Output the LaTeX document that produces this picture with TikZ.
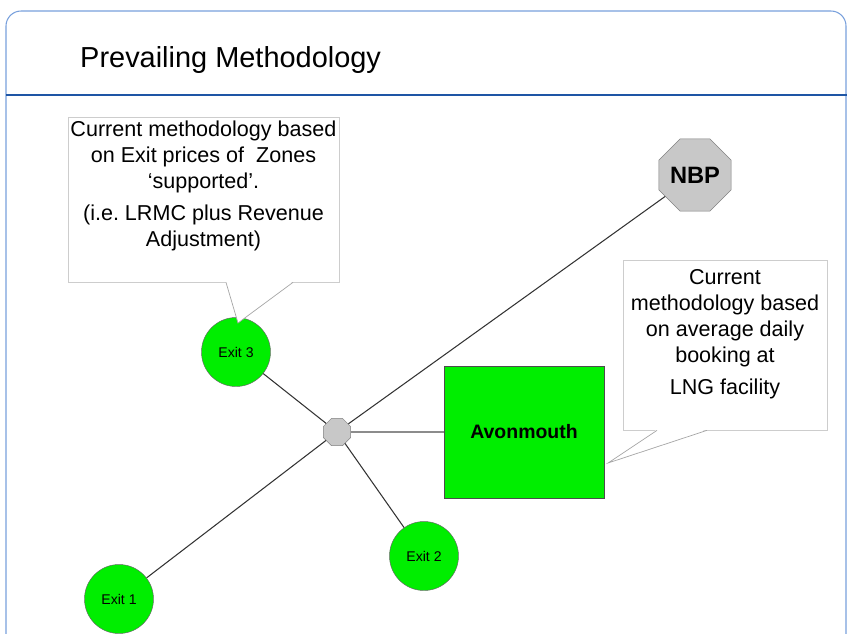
\documentclass[tikz,border=0pt]{standalone}
\usepackage{fontspec}
\setmainfont{Liberation Sans}
\usetikzlibrary{shapes.geometric,positioning,calc}
\frenchspacing

\definecolor{frameblue}{RGB}{120,160,220}
\definecolor{ruleblue}{RGB}{30,85,165}
\definecolor{zonegreen}{RGB}{0,238,0}
\definecolor{hubgray}{RGB}{200,200,200}
\definecolor{notegray}{RGB}{205,205,205}

\tikzset{
  exit/.style={circle, draw=black!60, fill=zonegreen, minimum size=20.7mm, inner sep=0pt,
    font=\fontsize{12}{13}\selectfont},
  octo/.style={regular polygon, regular polygon sides=8, draw=black!50, fill=hubgray, inner sep=0pt},
  pipe/.style={draw=black!80, line width=0.9pt},
  notebox/.style={rectangle, draw=notegray, fill=white, line width=0.6pt, inner sep=0pt},
  notetext/.style={align=center, inner sep=0pt, font=\fontsize{18.4}{22.2}\selectfont},
  noteline/.style={draw=black!35, line width=0.6pt},
}

\begin{document}
\begin{tikzpicture}[x=0.3mm, y=-0.3mm]
        \useasboundingbox (0,0) rectangle (847,633);
        \clip (0,0) rectangle (847,633);
        % Frame and title
        \draw[frameblue, line width=0.9pt, rounded corners=4.5mm] (6,11) rectangle (846,680);
        \draw[ruleblue, line width=0.9pt] (6,95) -- (847,95);
        \node[anchor=base west, inner sep=0pt, font=\fontsize{24.7}{28}\selectfont] (Title) at (80,67.5) {Prevailing Methodology};

        % Define nodes
        \node[exit] (Exit1) at (119,599) {Exit 1};
        \node[exit] (Exit2) at (424,556) {Exit 2};
        \node[exit] (Exit3) at (236,352) {Exit 3};
        \node[octo, minimum size=8.8mm] (Hub) at (337,432) {};
        \node[octo, minimum size=23.4mm, font=\bfseries\fontsize{20.2}{24}\selectfont] (NBP) at (695,175) {NBP};
        \node[draw=black!70, fill=zonegreen, minimum width=48mm, minimum height=39.6mm,
              font=\bfseries\fontsize{16.6}{20}\selectfont] (Avon) at (524,432) {Avonmouth};

        % Define pipes
        \path[pipe]
        (Exit1) edge (Hub)
        (Hub) edge (NBP)
        (Hub) edge (Exit3)
        (Hub) edge (Exit2);
        \draw[draw=black!45, line width=1pt] (Hub) -- (Avon);

        % Notes
        \node[notebox, minimum width=81.3mm, minimum height=49.5mm] (Note1) at (203.5,199.5) {};
        \node[notetext, below=1.2mm of Note1.north] (Note1Text)
          {Current methodology based\\ on Exit prices of\ \ Zones\\ ‘supported’.\\[5pt]
           (i.e. LRMC plus Revenue\\ Adjustment)};
        \coordinate (Tip1) at (238,323);
        \fill[white] ($(Note1.south)+(22.5,-1)$) -- (Tip1) -- ($(Note1.south)+(89.5,-1)$) -- cycle;
        \draw[noteline] ($(Note1.south)+(22.5,0)$) -- (Tip1) -- ($(Note1.south)+(89.5,0)$);

        \node[notebox, minimum width=61.2mm, minimum height=51mm] (Note2) at (725,345) {};
        \node[notetext, below=3mm of Note2.north] (Note2Text)
          {Current\\ methodology based\\ on average daily\\ booking at\\[5pt] LNG facility};
        \coordinate (Tip2) at (608,463);
        \fill[white] ($(Note2.south)+(-68,-1)$) -- (Tip2) -- ($(Note2.south)+(-18,-1)$) -- cycle;
        \draw[noteline] ($(Note2.south)+(-68,0)$) -- (Tip2) -- ($(Note2.south)+(-18,0)$);
\end{tikzpicture}
\end{document}
